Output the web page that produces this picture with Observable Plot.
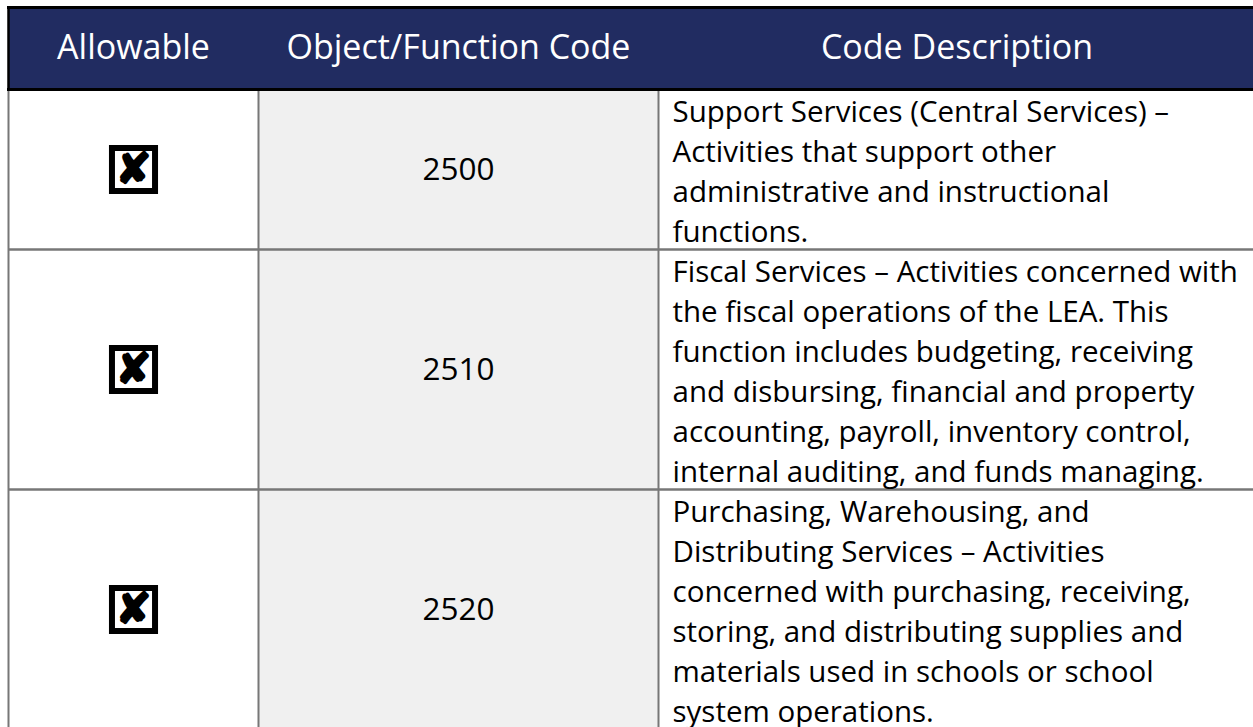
<!DOCTYPE html>
<html>
<head>
<meta charset="utf-8">
<script src="https://cdn.jsdelivr.net/npm/d3@7"></script>
<script src="https://cdn.jsdelivr.net/npm/@observablehq/plot@0.6"></script>
<style>
  html, body { margin: 0; padding: 0; background: #ffffff; }
  #chart svg { display: block; }
</style>
</head>
<body>
<div id="chart"></div>
<script>
// ---- data ----
const headers = ["Allowable", "Object/Function Code", "Code Description"];
const allowable = [true, true, true];
const codes = ["2500", "2510", "2520"];
const descriptions = [
  ["Support Services (Central Services) –",
   "Activities that support other",
   "administrative and instructional",
   "functions."],
  ["Fiscal Services – Activities concerned with",
   "the fiscal operations of the LEA. This",
   "function includes budgeting, receiving",
   "and disbursing, financial and property",
   "accounting, payroll, inventory control,",
   "internal auditing, and funds managing."],
  ["Purchasing, Warehousing, and",
   "Distributing Services – Activities",
   "concerned with purchasing, receiving,",
   "storing, and distributing supplies and",
   "materials used in schools or school",
   "system operations."]
];

// ---- layout (not data) ----
const W = 1253, H = 727;
const colEdges = [8, 258, 658, 1255];
const tableTop = 7, headerBottom = 89;
const lineH = 40;
const font = "'Open Sans', sans-serif";
const navy = "#212c61";
const grid = "#777777";
const bodySize = 29.5;

// build row table from data
let yCursor = headerBottom;
const rows = codes.map((code, i) => {
  const y1 = yCursor;
  const y2 = y1 + descriptions[i].length * lineH;
  yCursor = y2;
  return {code, ok: allowable[i], text: descriptions[i].join("\n"), y1, y2, yc: (y1 + y2) / 2};
});
const headerCells = headers.map((h, i) => ({label: h, x: (colEdges[i] + colEdges[i + 1]) / 2}));
const colMid = i => (colEdges[i] + colEdges[i + 1]) / 2;
const checked = rows.filter(d => d.ok);

const chart = Plot.plot({
  width: W, height: H,
  margin: 0,
  x: {domain: [0, W], range: [0, W], axis: null},
  y: {domain: [0, H], range: [0, H], axis: null},
  style: {background: "#ffffff", fontFamily: font, overflow: "visible"},
  marks: [
    // header band
    Plot.rect([0], {x1: colEdges[0], x2: colEdges[3], y1: tableTop, y2: headerBottom, fill: navy}),
    // grey code column
    Plot.rect(rows, {x1: colEdges[1], x2: colEdges[2], y1: "y1", y2: "y2", fill: "#f0f0f0"}),
    // body column lines
    Plot.ruleX([colEdges[0], colEdges[1], colEdges[2]], {y1: headerBottom, y2: H + 10, stroke: grid, strokeWidth: 2}),
    // row lines
    Plot.ruleY(rows.slice(1), {y: "y1", x1: colEdges[0], x2: colEdges[3], stroke: grid, strokeWidth: 2.5}),
    // header borders
    Plot.ruleY([tableTop, headerBottom], {x1: colEdges[0] - 1, x2: colEdges[3], stroke: "#000", strokeWidth: 3}),
    Plot.ruleX([colEdges[0]], {y1: tableTop, y2: headerBottom, stroke: "#000", strokeWidth: 2.5}),
    // header text
    Plot.text(headerCells, {x: "x", y: (tableTop + headerBottom) / 2, text: "label", fill: "#ffffff", fontSize: 34, fontFamily: font}),
    // allowable icons
    Plot.dot(checked, {x: colMid(0), y: "yc", symbol: "square", r: 24.3, fill: "#ffffff", stroke: "#000", strokeWidth: 6}),
    Plot.text(checked, {x: colMid(0), y: "yc", text: () => "✘", fontSize: 42,
      fill: "#000", stroke: "#000", strokeWidth: 2.5, strokeLinejoin: "round", fontFamily: "'DejaVu Sans'"}),
    // codes
    Plot.text(rows, {x: colMid(1), y: "yc", text: "code", fontSize: 31.5, fill: "#000", fontFamily: font}),
    // descriptions
    Plot.text(rows, {x: colEdges[2] + 14, y: "yc", text: "text", textAnchor: "start", lineAnchor: "middle",
      fontSize: bodySize, lineHeight: lineH / bodySize, fill: "#000", fontFamily: font})
  ]
});
document.getElementById("chart").append(chart);
</script>
</body>
</html>
